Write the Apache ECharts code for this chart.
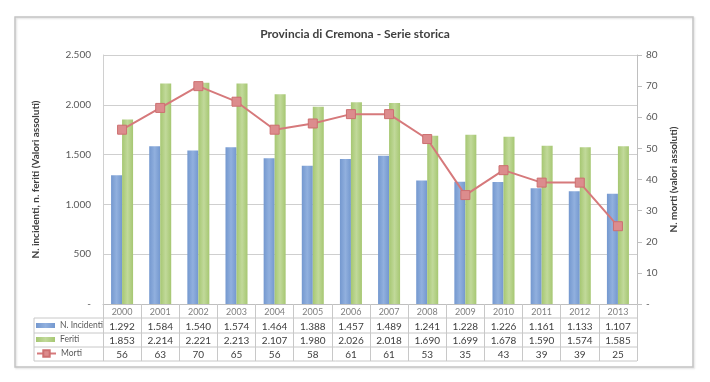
<!DOCTYPE html>
<html>
<head>
<meta charset="utf-8">
<script src="https://cdn.jsdelivr.net/npm/echarts@6/dist/echarts.min.js"></script>
<style>html,body{margin:0;padding:0;background:#fff;}#c{width:710px;height:382px;}</style>
</head>
<body>
<div id="c"></div>
<script>
var years = ['2000','2001','2002','2003','2004','2005','2006','2007','2008','2009','2010','2011','2012','2013'];
var incidenti = [1292,1584,1540,1574,1464,1388,1457,1489,1241,1228,1226,1161,1133,1107];
var feriti = [1853,2214,2221,2213,2107,1980,2026,2018,1690,1699,1678,1590,1574,1585];
var morti = [56,63,70,65,56,58,61,61,53,35,43,39,39,25];
var leftTicks = {min:0, max:2500, interval:500};
var rightTicks = {min:0, max:80, interval:10};

function fmt(n){ return String(n).replace(/\B(?=(\d{3})+(?!\d))/g,'.'); }
var FONT = 'Lato, "Open Sans", sans-serif';
var GL = 103, GR = 637, GT = 55, GB = 304;
var rowH = 14.3;

var chart = echarts.init(document.getElementById('c'), null, {renderer:'canvas'});

function rowAxis(arr, k){
  return {
    type:'category', data: years, gridIndex:0, position:'bottom', offset: rowH*k,
    axisLine:{show:false}, axisTick:{show:false}, splitLine:{show:false},
    axisLabel:{interval:0, margin:3, fontSize:10, color:'#404040', fontFamily:FONT,
      formatter:function(v, i){ return fmt(arr[i]); }},
    axisPointer:{show:false}
  };
}

var hLines = [];
[318, 333, 347, 361].forEach(function(y){
  hLines.push({type:'line', shape:{x1:34, y1:y, x2:GR, y2:y}, style:{stroke:'#c8c8c8', lineWidth:1}, silent:true});
});
hLines.push({type:'line', shape:{x1:34, y1:318, x2:34, y2:361}, style:{stroke:'#c8c8c8', lineWidth:1}, silent:true});
hLines.push({type:'rect', shape:{x:15, y:17, width:678, height:350}, style:{fill:'none', stroke:'#c4c4c4', lineWidth:1.5, shadowColor:'rgba(0,0,0,0.15)', shadowBlur:2, shadowOffsetX:1, shadowOffsetY:1}, silent:true, z:-1});

function legendAt(name, top, extra){
  var l = {orient:'horizontal', itemWidth:19, itemHeight:5, left:36, top:top, padding:0, data:[name],
    textStyle:{fontSize:8.5, color:'#595959', fontFamily:FONT}, selectedMode:false};
  return Object.assign(l, extra || {});
}

var option = {
  animation:false,
  backgroundColor:'#fff',
  title:{text:'Provincia di Cremona - Serie storica', left:'center', top:23,
    textStyle:{fontSize:12, fontWeight:'bold', color:'#404040', fontFamily:FONT}},
  grid:{left:GL, right:710-GR, top:GT, bottom:382-GB, containLabel:false, outerBoundsMode:'none'},
  legend:[
    legendAt('N. Incidenti', 321, {icon:'rect'}),
    legendAt('Feriti', 335, {icon:'rect'}),
    legendAt('Morti', 349, {itemHeight:8})
  ],
  xAxis:[
    {type:'category', data:years, gridIndex:0, position:'bottom',
      axisLine:{show:true, lineStyle:{color:'#bfbfbf', width:1}},
      axisTick:{show:true, interval:0, length:57, lineStyle:{color:'#c8c8c8'}},
      axisLabel:{interval:0, margin:4, fontSize:9, color:'#7f7f7f', fontFamily:FONT},
      splitLine:{show:false}},
    rowAxis(incidenti, 1),
    rowAxis(feriti, 2),
    rowAxis(morti, 3)
  ],
  yAxis:[
    {type:'value', min:leftTicks.min, max:leftTicks.max, interval:leftTicks.interval,
      name:'N. incidenti, n. feriti (Valori assoluti)', nameLocation:'middle', nameRotate:90, nameGap:62,
      nameTextStyle:{fontSize:10, fontWeight:'bold', color:'#404040', fontFamily:FONT},
      axisLine:{show:true, lineStyle:{color:'#d0d0d0'}}, axisTick:{show:false},
      axisLabel:{margin:12, fontSize:10, color:'#595959', fontFamily:FONT,
        formatter:function(v){ return v===0 ? '-' : fmt(v); }},
      splitLine:{show:true, lineStyle:{color:'#cfcfcf', width:1}}},
    {type:'value', min:rightTicks.min, max:rightTicks.max, interval:rightTicks.interval, position:'right',
      name:'N. morti (valori assoluti)', nameLocation:'middle', nameRotate:90, nameGap:32,
      nameTextStyle:{fontSize:10, fontWeight:'bold', color:'#404040', fontFamily:FONT},
      axisLine:{show:true, lineStyle:{color:'#bfbfbf'}},
      axisTick:{show:true, inside:false, length:5, lineStyle:{color:'#bfbfbf'}},
      axisLabel:{margin:9, fontSize:10, color:'#595959', fontFamily:FONT,
        formatter:function(v){ return v===0 ? '-' : String(v); }},
      splitLine:{show:false}}
  ],
  series:[
    {name:'N. Incidenti', type:'bar', data:incidenti, barWidth:11, barGap:'0%', xAxisIndex:0, yAxisIndex:0,
      itemStyle:{color:{type:'linear', x:0, y:0, x2:1, y2:0, colorStops:[
        {offset:0, color:'#7498cf'}, {offset:0.5, color:'#91b0de'}, {offset:1, color:'#7498cf'}]}}},
    {name:'Feriti', type:'bar', data:feriti, barWidth:11, barGap:'0%', xAxisIndex:0, yAxisIndex:0,
      itemStyle:{color:{type:'linear', x:0, y:0, x2:1, y2:0, colorStops:[
        {offset:0, color:'#a6c772'}, {offset:0.5, color:'#c1d99a'}, {offset:1, color:'#a6c772'}]}}},
    {name:'Morti', type:'line', data:morti, xAxisIndex:0, yAxisIndex:1,
      symbol:'rect', symbolSize:9,
      lineStyle:{color:'#d6797b', width:2},
      itemStyle:{color:'#dc8c8d', borderColor:'#cd6f70', borderWidth:1}}
  ],
  graphic: hLines
};
chart.setOption(option);
</script>
</body>
</html>
